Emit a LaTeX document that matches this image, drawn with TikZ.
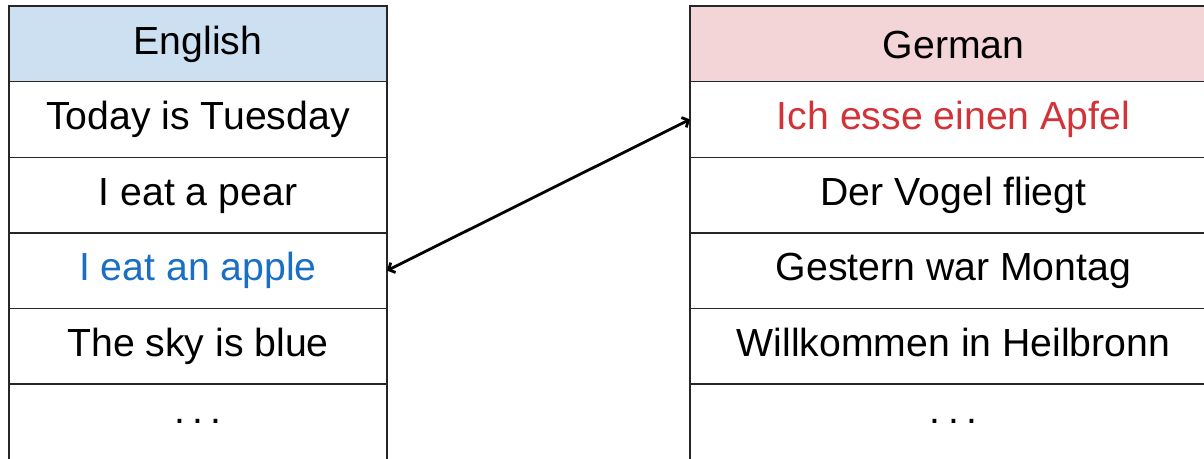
\documentclass[tikz,border=0pt]{standalone}
\usepackage{fontspec}
\setmainfont{Liberation Sans}
\usetikzlibrary{arrows.meta}
\definecolor{hdrblue}{HTML}{CCE0F1}
\definecolor{hdrpink}{HTML}{F4D5D7}
\definecolor{txtblue}{HTML}{1A6FC4}
\definecolor{txtred}{HTML}{D13438}
\begin{document}
\begin{tikzpicture}[x=1pt,y=-1pt,
  cell/.style={draw=black!85, line width=1.4pt, anchor=north west, inner sep=0pt, outer sep=0pt,
    minimum height=75.6pt, font=\fontsize{39.2}{47}\selectfont, text height=29pt, text depth=8.5pt},
  lcell/.style={cell, minimum width=378pt},
  rcell/.style={cell, minimum width=527pt},
  dotcell/.style={text height={}, text depth={}},
  lowtext/.style={text height=33pt, text depth=4.5pt},
  link/.style={line width=2.8pt, {Straight Barb[length=5pt,width=11pt]}-{Straight Barb[length=5pt,width=11pt]}}]
\useasboundingbox (0,0) rectangle (1204,458);
% English column
\node[lcell, fill=hdrblue] (eh) at (9,6) {English};
\node[lcell] (e1) at (9,81.6) {Today is Tuesday};
\node[lcell] (e2) at (9,157.2) {I eat a pear};
\node[lcell, text=txtblue] (apple) at (9,232.8) {I eat an apple};
\node[lcell] (e4) at (9,308.4) {The sky is blue};
\node[lcell, dotcell] (e5) at (9,384.0) {.\kern0.19em.\kern0.19em.};
% German column
\node[rcell, fill=hdrpink, lowtext] (gh) at (690,6) {German};
\node[rcell, text=txtred] (apfel) at (690,81.6) {Ich esse einen Apfel};
\node[rcell] (g2) at (690,157.2) {Der Vogel fliegt};
\node[rcell] (g3) at (690,232.8) {Gestern war Montag};
\node[rcell] (g4) at (690,308.4) {Willkommen in Heilbronn};
\node[rcell, dotcell] (g5) at (690,384.0) {.\kern0.19em.\kern0.19em.};
% link
\draw[link] (apple.east) -- (apfel.west);
\end{tikzpicture}
\end{document}
